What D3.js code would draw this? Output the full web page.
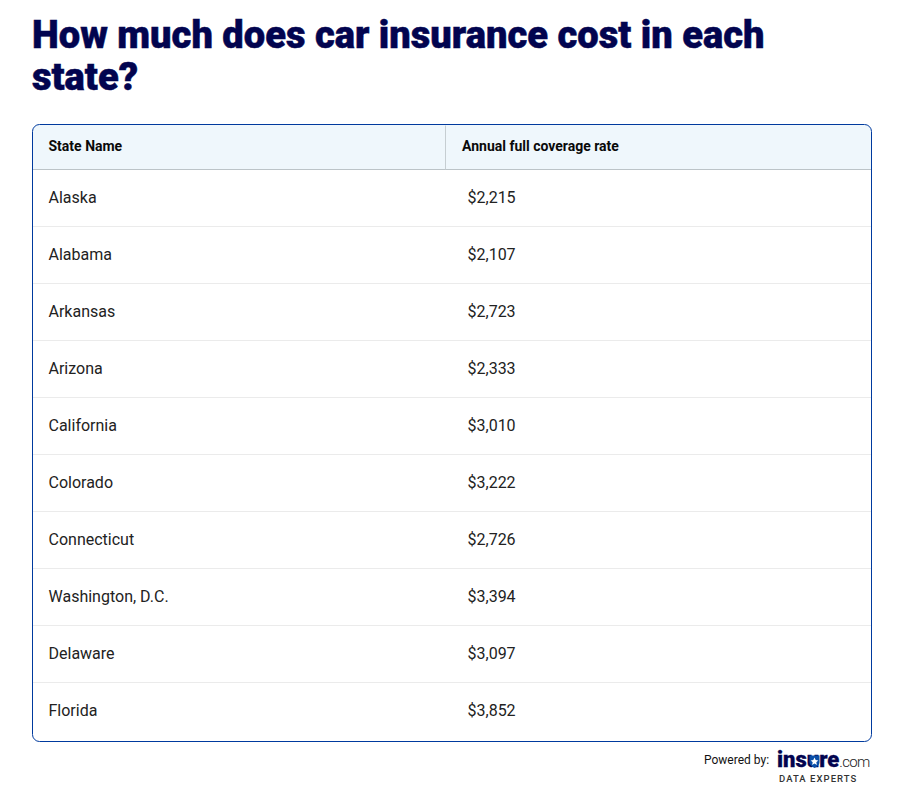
<!DOCTYPE html>
<html lang="en">
<head>
<meta charset="UTF-8">
<title>Car insurance cost</title>
<script src="https://cdn.jsdelivr.net/npm/d3@7"></script>
<style>
    * { padding: 0; margin: 0; }
    body { background: #fff; overflow: hidden; }
    text { font-family: Roboto, sans-serif; }
</style>
</head>
<body>
<script>
const titleLines = ["How much does car insurance cost in each", "state?"];
const headers = ["State Name", "Annual full coverage rate"];
const states = ["Alaska", "Alabama", "Arkansas", "Arizona", "California", "Colorado", "Connecticut", "Washington, D.C.", "Delaware", "Florida"];
const rates = [2215, 2107, 2723, 2333, 3010, 3222, 2726, 3394, 3097, 3852];

const width = 910, height = 803;
const svg = d3.select("body").append("svg").attr("width", width).attr("height", height).style("display", "block");

// title
svg.selectAll(".title").data(titleLines).enter().append("text")
    .attr("class", "title")
    .attr("x", 32)
    .attr("y", (d, i) => 48 + i * 42)
    .attr("font-size", 38.1)
    .attr("font-weight", 900)
    .attr("fill", "#02044f")
    .attr("stroke", "#02044f")
    .attr("stroke-width", 0.5)
    .text(d => d);

// table box
const boxL = 32.5, boxR = 871.5, boxT = 124.5, boxB = 741.5, headH = 45;
const clip = svg.append("clipPath").attr("id", "box");
clip.append("rect").attr("x", boxL).attr("y", boxT).attr("width", boxR - boxL).attr("height", boxB - boxT).attr("rx", 7);

const y = d3.scaleBand().domain(states).range([boxT + headH, boxB - 2.5]);
const fmt = d3.format("$,");

const g = svg.append("g").attr("clip-path", "url(#box)");
g.append("rect").attr("x", boxL).attr("y", boxT).attr("width", boxR - boxL).attr("height", headH).attr("fill", "#eff7fc");
g.append("line").attr("x1", boxL).attr("x2", boxR).attr("y1", boxT + headH).attr("y2", boxT + headH).attr("stroke", "#bcc4c8");
g.append("line").attr("x1", 445.5).attr("x2", 445.5).attr("y1", boxT + 1).attr("y2", boxT + headH).attr("stroke", "#c6ced2");

// row separators
g.selectAll(".sep").data(states.slice(1)).enter().append("line")
    .attr("class", "sep")
    .attr("x1", boxL).attr("x2", boxR)
    .attr("y1", d => Math.round(y(d)) + 0.5)
    .attr("y2", d => Math.round(y(d)) + 0.5)
    .attr("stroke", "#ebebeb");

svg.append("rect").attr("x", boxL).attr("y", boxT).attr("width", boxR - boxL).attr("height", boxB - boxT)
    .attr("rx", 7).attr("fill", "none").attr("stroke", "#003a9e");

// header text
svg.selectAll(".head").data(headers).enter().append("text")
    .attr("class", "head")
    .attr("x", (d, i) => i === 0 ? 48.5 : 462)
    .attr("y", 150.5)
    .attr("font-size", 14)
    .attr("font-weight", 700)
    .attr("fill", "#0a0a0a")
    .text(d => d);

// rows
svg.selectAll(".state").data(states).enter().append("text")
    .attr("class", "state")
    .attr("x", 48.5)
    .attr("y", d => y(d) + y.bandwidth() / 2 + 5.5)
    .attr("font-size", 16)
    .attr("fill", "#222")
    .text(d => d);

svg.selectAll(".rate").data(rates).enter().append("text")
    .attr("class", "rate")
    .attr("x", 467.5)
    .attr("y", (d, i) => y(states[i]) + y.bandwidth() / 2 + 5.5)
    .attr("font-size", 16)
    .attr("fill", "#222")
    .text(d => fmt(d));

// footer
svg.append("text").attr("x", 704).attr("y", 764).attr("font-size", 12).attr("fill", "#111").text("Powered by:");
const logo = svg.append("text").attr("x", 777).attr("y", 767);
logo.append("tspan").attr("font-size", 22).attr("font-weight", 900).attr("fill", "#02044f")
    .attr("stroke", "#02044f").attr("stroke-width", 0.3).text("insure");
logo.append("tspan").attr("font-size", 15).attr("font-weight", 300).attr("fill", "#222").attr("letter-spacing", -0.7).text(".com");

// shield in the logo's u
svg.append("path")
    .attr("d", "M809.5 755.5h10v6.5q0 3.5-5 6q-5-2.5-5-6z")
    .attr("fill", "#0a4ea8");
svg.append("path")
    .attr("d", "M814.5 757.5l1.2 2.6 2.6.3-2 1.8.6 2.7-2.4-1.4-2.4 1.4.6-2.7-2-1.8 2.6-.3z")
    .attr("fill", "#fff");

svg.append("text").attr("x", 779).attr("y", 782).attr("font-size", 9.5).attr("font-weight", 500)
    .attr("letter-spacing", 1.05).attr("fill", "#333").text("DATA EXPERTS");
</script>
</body>
</html>
